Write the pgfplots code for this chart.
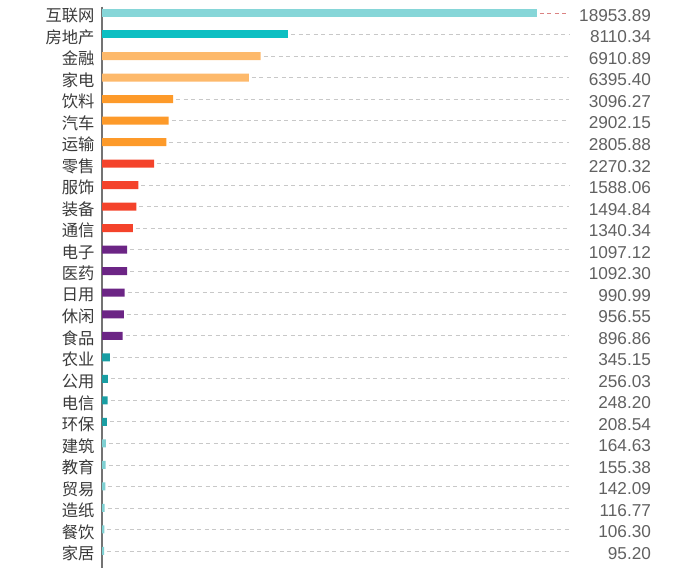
\documentclass[border=0pt]{standalone}
\usepackage{fontspec}
\setmainfont{Liberation Sans}
\newfontfamily\cjk{Noto Sans CJK SC}
\usepackage{pgfplots}
\usepackage{pgfplotstable}
\pgfplotsset{compat=1.18}
\definecolor{cA}{HTML}{86D6D8}
\definecolor{cB}{HTML}{0DBFC2}
\definecolor{cC}{HTML}{FDB96B}
\definecolor{cD}{HTML}{FD9A2A}
\definecolor{cE}{HTML}{F4432B}
\definecolor{cF}{HTML}{6C2585}
\definecolor{cG}{HTML}{1A9EA3}
\definecolor{cH}{HTML}{7FD0D2}
\definecolor{grid}{HTML}{C8C8C8}
\definecolor{txt}{HTML}{3A3A3A}
\pgfplotstableread{
idx val lab
0 18953.89 互联网
1 8110.34 房地产
2 6910.89 金融
3 6395.40 家电
4 3096.27 饮料
5 2902.15 汽车
6 2805.88 运输
7 2270.32 零售
8 1588.06 服饰
9 1494.84 装备
10 1340.34 通信
11 1097.12 电子
12 1092.30 医药
13 990.99 日用
14 956.55 休闲
15 896.86 食品
16 345.15 农业
17 256.03 公用
18 248.20 电信
19 208.54 环保
20 164.63 建筑
21 155.38 教育
22 142.09 贸易
23 116.77 造纸
24 106.30 餐饮
25 95.20 家居
}\data
\begin{document}
\begin{tikzpicture}[x=1pt,y=1pt]
\path[use as bounding box] (0,0) rectangle (700,582);
\begin{axis}[
  at={(102pt,13.8pt)}, anchor=south west,
  scale only axis, width=551pt, height=561.7pt,
  xmin=0, xmax=24010,
  ymin=-0.3, ymax=25.8, y dir=reverse,
  axis x line=none,
  axis y line*=left,
  y axis line style={draw=black!55, line width=1.2pt, -},
  ytick={0,...,25},
  yticklabels from table={\data}{lab},
  major tick length=0pt,
  yticklabel style={font=\cjk\fontsize{16.3}{17}\selectfont, text=txt, anchor=east, xshift=-4pt, yshift=-2.5pt},
  xbar, bar width=8pt, bar shift=0pt,
  clip=false,
]
\addplot[draw=none, fill=cA] coordinates {(18953.89,0)};
\addplot[draw=none, fill=cB] coordinates {(8110.34,1)};
\addplot[draw=none, fill=cC] coordinates {(6910.89,2) (6395.40,3)};
\addplot[draw=none, fill=cD] coordinates {(3096.27,4) (2902.15,5) (2805.88,6)};
\addplot[draw=none, fill=cE] coordinates {(2270.32,7) (1588.06,8) (1494.84,9) (1340.34,10)};
\addplot[draw=none, fill=cF] coordinates {(1097.12,11) (1092.30,12) (990.99,13) (956.55,14) (896.86,15)};
\addplot[draw=none, fill=cG] coordinates {(345.15,16) (256.03,17) (248.20,18) (208.54,19)};
\addplot[draw=none, fill=cH] coordinates {(164.63,20) (155.38,21) (142.09,22) (116.77,23) (106.30,24) (95.20,25)};
% dashed guide lines
\addplot[xbar=false, draw=grid, line width=0.8pt, dash pattern=on 4pt off 3.5pt,
  quiver={u={20350-\thisrow{val}-130}, v=0}]
  table[x expr=\thisrow{val}+130, y=idx, restrict expr to domain={\thisrow{idx}}{1:25}] {\data};
\addplot[xbar=false, draw=red!35!grid, line width=0.8pt, dash pattern=on 4pt off 3.5pt,
  quiver={u={20350-\thisrow{val}-130}, v=0}]
  table[x expr=\thisrow{val}+130, y=idx, restrict expr to domain={\thisrow{idx}}{0:0}] {\data};
% value labels
\addplot[xbar=false, draw=none, mark=none, nodes near coords, point meta=explicit symbolic,
  nodes near coords style={anchor=east, inner sep=0pt, yshift=-2.5pt, font=\fontsize{17.2}{18}\selectfont, text=black!62}]
  table[x expr=23930, y=idx, meta=val] {\data};
\end{axis}
\end{tikzpicture}
\end{document}
